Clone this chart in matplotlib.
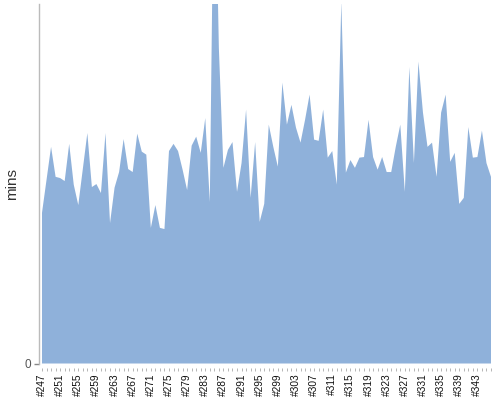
import matplotlib
matplotlib.use("Agg")
import matplotlib.pyplot as plt
from matplotlib.ticker import FixedLocator

plt.rcParams['font.family'] = ['Liberation Sans', 'DejaVu Sans']

builds = [f"#{n}" for n in range(247, 347)]
mins = [
    25.1, 30.6, 36.1, 31.1, 30.9, 30.4, 36.6, 29.8, 26.4, 32.4,
    38.4, 29.4, 29.9, 28.4, 38.4, 23.4, 29.3, 31.9, 37.4, 32.4,
    31.9, 38.3, 35.3, 34.8, 22.6, 26.4, 22.6, 22.4, 35.4, 36.6,
    35.4, 32.3, 28.9, 36.3, 37.8, 35.1, 40.9, 26.9, 91.2, 52.5,
    32.6, 35.6, 36.9, 28.6, 33.4, 42.3, 27.6, 36.9, 23.6, 26.6,
    39.8, 36.1, 32.8, 46.8, 39.8, 43.1, 39.3, 36.8, 40.6, 44.8,
    37.3, 37.1, 42.3, 34.3, 35.4, 29.8, 60.3, 31.8, 33.9, 32.6,
    34.3, 34.4, 40.6, 34.4, 32.3, 34.4, 31.9, 31.9, 36.1, 39.8,
    28.6, 49.4, 33.4, 50.3, 41.8, 36.1, 36.8, 31.1, 41.8, 44.8,
    33.6, 35.1, 26.6, 27.6, 39.4, 34.3, 34.4, 38.8, 33.4, 31.1,
]
y_max = 59.9
label_step = 4

fig = plt.figure(figsize=(5, 4), dpi=100)
ax = fig.add_axes([38.5 / 500, 36.5 / 400, (491 - 38.5) / 500, (363.5 - 4) / 400])

x = list(range(len(builds)))
ax.fill_between(x, 0, mins, color="#8fb1da", linewidth=0)

ax.set_xlim(-0.77, len(builds) - 1)
ax.set_ylim(0, y_max)

for s in ["top", "right"]:
    ax.spines[s].set_visible(False)
ax.spines["left"].set_color("#bbbbbb")
ax.spines["left"].set_linewidth(1)
ax.spines["bottom"].set_position(("outward", 3.4))
ax.spines["bottom"].set_visible(False)

ax.set_yticks([0])
ax.set_yticklabels(["0"])
ax.tick_params(axis="y", colors="#888888", labelsize=8.5, length=3.5, width=1, pad=2)
ax.tick_params(axis="y", labelcolor="#555555")

major = x[::label_step]
ax.set_xticks(major)
ax.set_xticklabels(builds[::label_step], rotation=90, fontsize=7.3, color="#111111")
ax.xaxis.set_minor_locator(FixedLocator(x))
ax.tick_params(axis="x", which="both", length=2, width=0.6, color="#aaaaaa", pad=1.5)

fig.text(12.5 / 500, 1 - 184 / 400, "mins", rotation=90, ha="center", va="center",
         fontsize=11, color="#333333")

fig.savefig("out.png", dpi=100)
